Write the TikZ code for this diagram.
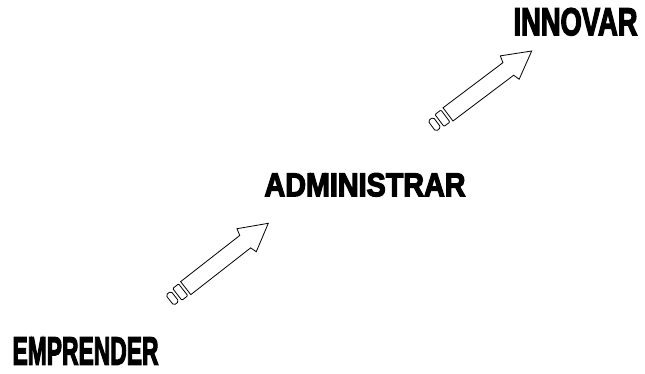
\documentclass[tikz,border=0pt]{standalone}
\usepackage{fontspec}
\usepackage{graphicx}
\newfontfamily\heavyfont{Liberation Sans}[BoldFeatures={FakeBold=4}]
\tikzset{
  word/.style={inner sep=0pt, outer sep=0pt, anchor=south west},
  outline/.style={draw=black, line width=0.8pt, line join=miter, fill=white},
}
\newcommand{\bigarrow}{%
  \draw[outline] (0,0) -- (-28,15) -- (-30,8) -- (-105,8) -- (-105,-8.5) -- (-29,-8.5) -- (-27,-15) -- cycle;
  \draw[outline, rounded corners=1pt] (-115.5,-7.5) rectangle (-108,7.5);
  \draw[outline, rounded corners=1.8pt] (-125,-6.5) rectangle (-118.5,6.5);
}
\begin{document}
\begin{tikzpicture}[x=1pt,y=1pt]
\useasboundingbox (0,0) rectangle (645,373);
\node[word] (emprender) at (12.5,8.5) {\resizebox{146pt}{27pt}{\heavyfont\bfseries EMPRENDER}};
\node[word] (administrar) at (264.5,176.5) {\resizebox{201pt}{23pt}{\heavyfont\bfseries ADMINISTRAR}};
\node[word] (innovar) at (513.5,337.5) {\resizebox{124pt}{27pt}{\heavyfont\bfseries INNOVAR}};
\coordinate (tipA) at (268.3,149.7);
\coordinate (tipB) at (531.7,322);
\begin{scope}[shift={(tipA)}, rotate=38]
\bigarrow
\end{scope}
\begin{scope}[shift={(tipB)}, rotate=37]
\bigarrow
\end{scope}
\end{tikzpicture}
\end{document}
